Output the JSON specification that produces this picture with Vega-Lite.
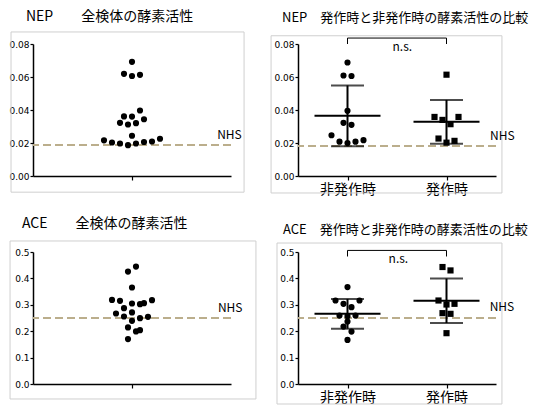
{
  "$schema": "https://vega.github.io/schema/vega-lite/v6.json",
  "padding": {"left": 8, "top": 10, "right": 0, "bottom": 0},
  "background": "white",
  "columns": 2,
  "bounds": "flush",
  "spacing": {"row": 76, "column": 67},
  "datasets": {
    "one": [{}],
    "nep_all": [
      {"g": "全検体", "v": 0.0692, "slot": 0}, {"g": "全検体", "v": 0.0619, "slot": -1}, {"g": "全検体", "v": 0.0606, "slot": 0}, {"g": "全検体", "v": 0.0613, "slot": 1},
      {"g": "全検体", "v": 0.0397, "slot": 1}, {"g": "全検体", "v": 0.0361, "slot": -1}, {"g": "全検体", "v": 0.036, "slot": 0}, {"g": "全検体", "v": 0.0344, "slot": 1.5},
      {"g": "全検体", "v": 0.0322, "slot": -1.5}, {"g": "全検体", "v": 0.0312, "slot": -0.5}, {"g": "全検体", "v": 0.032, "slot": 0.5}, {"g": "全検体", "v": 0.0244, "slot": 0},
      {"g": "全検体", "v": 0.0216, "slot": -3.5}, {"g": "全検体", "v": 0.0203, "slot": -2.5}, {"g": "全検体", "v": 0.0197, "slot": -1.5}, {"g": "全検体", "v": 0.0187, "slot": -0.5},
      {"g": "全検体", "v": 0.0197, "slot": 0.5}, {"g": "全検体", "v": 0.0206, "slot": 1.5}, {"g": "全検体", "v": 0.0209, "slot": 2.5}, {"g": "全検体", "v": 0.0226, "slot": 3.5}
    ],
    "nep_cmp": [
      {"g": "非発作時", "v": 0.0688, "slot": 0}, {"g": "非発作時", "v": 0.0609, "slot": -0.5}, {"g": "非発作時", "v": 0.0606, "slot": 0.5}, {"g": "非発作時", "v": 0.0395, "slot": 0},
      {"g": "非発作時", "v": 0.0322, "slot": -0.5}, {"g": "非発作時", "v": 0.031, "slot": 0.5}, {"g": "非発作時", "v": 0.0247, "slot": -2}, {"g": "非発作時", "v": 0.0208, "slot": -1},
      {"g": "非発作時", "v": 0.02, "slot": 0}, {"g": "非発作時", "v": 0.0208, "slot": 1}, {"g": "非発作時", "v": 0.0217, "slot": 2},
      {"g": "発作時", "v": 0.0614, "slot": 0}, {"g": "発作時", "v": 0.0358, "slot": -1.5}, {"g": "発作時", "v": 0.0358, "slot": 1.5}, {"g": "発作時", "v": 0.034, "slot": -0.5},
      {"g": "発作時", "v": 0.0314, "slot": 0.5}, {"g": "発作時", "v": 0.0227, "slot": -1}, {"g": "発作時", "v": 0.0213, "slot": 1}, {"g": "発作時", "v": 0.0202, "slot": 0}
    ],
    "ace_all": [
      {"g": "全検体", "v": 0.4448, "slot": 0.5}, {"g": "全検体", "v": 0.4259, "slot": -0.5}, {"g": "全検体", "v": 0.3654, "slot": 0}, {"g": "全検体", "v": 0.3186, "slot": -2.5},
      {"g": "全検体", "v": 0.3149, "slot": -1.5}, {"g": "全検体", "v": 0.3174, "slot": 2.5}, {"g": "全検体", "v": 0.305, "slot": 0}, {"g": "全検体", "v": 0.3023, "slot": 1},
      {"g": "全検体", "v": 0.3061, "slot": 1.5}, {"g": "全検体", "v": 0.2872, "slot": -1}, {"g": "全検体", "v": 0.2672, "slot": -2}, {"g": "全検体", "v": 0.271, "slot": 0},
      {"g": "全検体", "v": 0.2558, "slot": -1}, {"g": "全検体", "v": 0.2494, "slot": 1}, {"g": "全検体", "v": 0.2543, "slot": 2}, {"g": "全検体", "v": 0.2392, "slot": 0},
      {"g": "全検体", "v": 0.2142, "slot": -0.5}, {"g": "全検体", "v": 0.1991, "slot": 0.5}, {"g": "全検体", "v": 0.204, "slot": 1}, {"g": "全検体", "v": 0.17, "slot": -0.5}
    ],
    "ace_cmp": [
      {"g": "非発作時", "v": 0.3671, "slot": 0}, {"g": "非発作時", "v": 0.3163, "slot": -1.5}, {"g": "非発作時", "v": 0.3163, "slot": 1.5}, {"g": "非発作時", "v": 0.3037, "slot": -0.5},
      {"g": "非発作時", "v": 0.2911, "slot": 0.5}, {"g": "非発作時", "v": 0.2593, "slot": -1}, {"g": "非発作時", "v": 0.257, "slot": 0}, {"g": "非発作時", "v": 0.2593, "slot": 1},
      {"g": "非発作時", "v": 0.2365, "slot": 0}, {"g": "非発作時", "v": 0.2175, "slot": -0.5}, {"g": "非発作時", "v": 0.1986, "slot": 0.5}, {"g": "非発作時", "v": 0.1671, "slot": 0},
      {"g": "発作時", "v": 0.4431, "slot": -0.5}, {"g": "発作時", "v": 0.4302, "slot": 0.5}, {"g": "発作時", "v": 0.3163, "slot": -1}, {"g": "発作時", "v": 0.3011, "slot": 0},
      {"g": "発作時", "v": 0.3037, "slot": 1}, {"g": "発作時", "v": 0.2684, "slot": -0.5}, {"g": "発作時", "v": 0.2658, "slot": 0.5}, {"g": "発作時", "v": 0.1925, "slot": 0}
    ],
    "nep_bracket": [
      {"g": "非発作時", "y": 0.08, "o": 1}, {"g": "非発作時", "y": 0.0836, "o": 2}, {"g": "発作時", "y": 0.0836, "o": 3}, {"g": "発作時", "y": 0.08, "o": 4}
    ],
    "ace_bracket": [
      {"g": "非発作時", "y": 0.483, "o": 1}, {"g": "非発作時", "y": 0.506, "o": 2}, {"g": "発作時", "y": 0.506, "o": 3}, {"g": "発作時", "y": 0.483, "o": 4}
    ]
  },
  "concat": [
    {
      "width": 198, "height": 132,
      "title": {"text": "NEP　　全検体の酵素活性", "anchor": "start", "frame": "group", "dx": -7, "offset": -4, "baseline": "alphabetic", "fontSize": 14},
      "layer": [
        {"data": {"name": "one"},
         "layer": [
          {"mark": {"type": "rect", "filled": false, "stroke": "#cfcfcf", "strokeWidth": 1},
           "encoding": {"x": {"datum": -0.111, "type": "quantitative", "scale": {"domain": [0, 1]}, "axis": null}, "x2": {"datum": 1.066},
                        "y": {"datum": -0.0098, "type": "quantitative", "scale": {"domain": [0, 0.08]}, "axis": {"title": null, "values": [0, 0.02, 0.04, 0.06, 0.08], "format": ".2f"}}, "y2": {"datum": 0.0873}}},
          {"mark": {"type": "text", "text": "NHS", "align": "left", "baseline": "middle", "fontSize": 12},
           "encoding": {"x": {"datum": 0.93, "type": "quantitative", "axis": null}, "y": {"datum": 0.025, "type": "quantitative", "axis": {"title": null, "values": [0, 0.02, 0.04, 0.06, 0.08], "format": ".2f"}}}}
        ]},
        {"data": {"name": "nep_all"},
         "layer": [
          {"mark": {"type": "rule", "color": "#bcae8c", "strokeDash": [8, 4], "strokeWidth": 1},
           "encoding": {"y": {"datum": 0.0188, "type": "quantitative", "axis": {"title": null, "values": [0, 0.02, 0.04, 0.06, 0.08], "format": ".2f"}}}},
          {"mark": {"type": "point", "filled": true, "shape": "circle", "size": 38, "opacity": 1, "color": "black"},
           "encoding": {
             "x": {"field": "g", "type": "nominal", "scale": {"type": "point", "padding": 0.5}, "axis": {"title": null, "labels": false, "tickSize": 4}},
             "xOffset": {"field": "slot", "type": "quantitative", "scale": {"domain": [-4, 4], "range": [-32, 32]}},
             "y": {"field": "v", "type": "quantitative", "scale": {"domain": [0, 0.08]}, "axis": {"title": null, "values": [0, 0.02, 0.04, 0.06, 0.08], "format": ".2f"}}}}
         ]}
      ],
      "resolve": {"scale": {"x": "independent"}}
    },
    {
      "width": 198, "height": 132,
      "title": {"text": "NEP　発作時と非発作時の酵素活性の比較", "anchor": "start", "frame": "group", "dx": -16, "offset": 0, "baseline": "alphabetic", "fontSize": 13},
      "layer": [
        {"data": {"name": "one"},
         "layer": [
          {"mark": {"type": "rect", "filled": false, "stroke": "#cfcfcf", "strokeWidth": 1},
           "encoding": {"x": {"datum": -0.136, "type": "quantitative", "scale": {"domain": [0, 1]}, "axis": null}, "x2": {"datum": 1.03},
                        "y": {"datum": -0.0103, "type": "quantitative", "scale": {"domain": [0, 0.08]}, "axis": {"title": null, "values": [0, 0.02, 0.04, 0.06, 0.08], "format": ".2f"}}, "y2": {"datum": 0.085}}},
          {"mark": {"type": "text", "text": "NHS", "align": "left", "baseline": "middle", "fontSize": 12},
           "encoding": {"x": {"datum": 0.97, "type": "quantitative", "axis": null}, "y": {"datum": 0.0243, "type": "quantitative", "axis": {"title": null, "values": [0, 0.02, 0.04, 0.06, 0.08], "format": ".2f"}}}},
          {"mark": {"type": "text", "text": "n.s.", "align": "center", "baseline": "middle", "fontSize": 12},
           "encoding": {"x": {"datum": 0.527, "type": "quantitative", "axis": null}, "y": {"datum": 0.0779, "type": "quantitative", "axis": {"title": null, "values": [0, 0.02, 0.04, 0.06, 0.08], "format": ".2f"}}}}
        ]},
        {"data": {"name": "nep_cmp"},
         "layer": [
          {"mark": {"type": "rule", "color": "#bcae8c", "strokeDash": [8, 4], "strokeWidth": 1},
           "encoding": {"y": {"datum": 0.0182, "type": "quantitative", "axis": {"title": null, "values": [0, 0.02, 0.04, 0.06, 0.08], "format": ".2f"}}}},
          {"mark": {"type": "errorbar", "extent": "stdev", "ticks": true, "size": 33, "thickness": 2, "color": "black"},
           "encoding": {"x": {"field": "g", "type": "nominal", "scale": {"type": "point", "padding": 0.5, "domain": ["非発作時", "発作時"]}, "axis": {"title": null, "labelAngle": 0, "labelFontSize": 14, "labelPadding": 2, "tickSize": 4}},
                        "y": {"field": "v", "type": "quantitative", "axis": {"title": null, "values": [0, 0.02, 0.04, 0.06, 0.08], "format": ".2f"}}}},
          {"mark": {"type": "tick", "orient": "horizontal", "size": 66, "thickness": 2, "color": "black"},
           "encoding": {"x": {"field": "g", "type": "nominal", "scale": {"type": "point", "padding": 0.5, "domain": ["非発作時", "発作時"]}, "axis": {"title": null, "labelAngle": 0, "labelFontSize": 14, "labelPadding": 2, "tickSize": 4}},
                        "y": {"aggregate": "mean", "field": "v", "type": "quantitative", "axis": {"title": null, "values": [0, 0.02, 0.04, 0.06, 0.08], "format": ".2f"}}}},
          {"mark": {"type": "point", "filled": true, "size": 38, "opacity": 1, "color": "black"},
           "encoding": {
             "x": {"field": "g", "type": "nominal", "scale": {"type": "point", "padding": 0.5, "domain": ["非発作時", "発作時"]}, "axis": {"title": null, "labelAngle": 0, "labelFontSize": 14, "labelPadding": 2, "tickSize": 4}},
             "xOffset": {"field": "slot", "type": "quantitative", "scale": {"domain": [-4, 4], "range": [-32, 32]}},
             "shape": {"field": "g", "type": "nominal", "scale": {"domain": ["非発作時", "発作時"], "range": ["circle", "square"]}, "legend": null},
             "y": {"field": "v", "type": "quantitative", "scale": {"domain": [0, 0.08]}, "axis": {"title": null, "values": [0, 0.02, 0.04, 0.06, 0.08], "format": ".2f"}}}},
          {"data": {"name": "nep_bracket"},
           "mark": {"type": "line", "color": "black", "strokeWidth": 1},
           "encoding": {"x": {"field": "g", "type": "nominal", "scale": {"type": "point", "padding": 0.5, "domain": ["非発作時", "発作時"]}, "axis": {"title": null, "labelAngle": 0, "labelFontSize": 14, "labelPadding": 2, "tickSize": 4}},
                        "y": {"field": "y", "type": "quantitative", "axis": {"title": null, "values": [0, 0.02, 0.04, 0.06, 0.08], "format": ".2f"}},
                        "order": {"field": "o", "type": "quantitative"}}}
         ]}
      ],
      "resolve": {"scale": {"x": "independent"}}
    },
    {
      "width": 198, "height": 132,
      "title": {"text": "ACE　　全検体の酵素活性", "anchor": "start", "frame": "group", "dx": -11, "offset": -2, "baseline": "alphabetic", "fontSize": 14},
      "layer": [
        {"data": {"name": "one"},
         "layer": [
          {"mark": {"type": "rect", "filled": false, "stroke": "#cfcfcf", "strokeWidth": 1},
           "encoding": {"x": {"datum": -0.116, "type": "quantitative", "scale": {"domain": [0, 1]}, "axis": null}, "x2": {"datum": 1.126},
                        "y": {"datum": -0.0568, "type": "quantitative", "scale": {"domain": [0, 0.5]}, "axis": {"title": null, "values": [0, 0.1, 0.2, 0.3, 0.4, 0.5], "format": ".1f"}}, "y2": {"datum": 0.5417}}},
          {"mark": {"type": "text", "text": "NHS", "align": "left", "baseline": "middle", "fontSize": 12},
           "encoding": {"x": {"datum": 0.934, "type": "quantitative", "axis": null}, "y": {"datum": 0.286, "type": "quantitative", "axis": {"title": null, "values": [0, 0.1, 0.2, 0.3, 0.4, 0.5], "format": ".1f"}}}}
        ]},
        {"data": {"name": "ace_all"},
         "layer": [
          {"mark": {"type": "rule", "color": "#bcae8c", "strokeDash": [8, 4], "strokeWidth": 1},
           "encoding": {"y": {"datum": 0.251, "type": "quantitative", "axis": {"title": null, "values": [0, 0.1, 0.2, 0.3, 0.4, 0.5], "format": ".1f"}}}},
          {"mark": {"type": "point", "filled": true, "shape": "circle", "size": 38, "opacity": 1, "color": "black"},
           "encoding": {
             "x": {"field": "g", "type": "nominal", "scale": {"type": "point", "padding": 0.5}, "axis": {"title": null, "labels": false, "tickSize": 4}},
             "xOffset": {"field": "slot", "type": "quantitative", "scale": {"domain": [-4, 4], "range": [-32, 32]}},
             "y": {"field": "v", "type": "quantitative", "scale": {"domain": [0, 0.5]}, "axis": {"title": null, "values": [0, 0.1, 0.2, 0.3, 0.4, 0.5], "format": ".1f"}}}}
         ]}
      ],
      "resolve": {"scale": {"x": "independent"}}
    },
    {
      "width": 198, "height": 132,
      "title": {"text": "ACE　発作時と非発作時の酵素活性の比較", "anchor": "start", "frame": "group", "dx": -15, "offset": -4, "baseline": "alphabetic", "fontSize": 13},
      "layer": [
        {"data": {"name": "one"},
         "layer": [
          {"mark": {"type": "rect", "filled": false, "stroke": "#cfcfcf", "strokeWidth": 1},
           "encoding": {"x": {"datum": -0.106, "type": "quantitative", "scale": {"domain": [0, 1]}, "axis": null}, "x2": {"datum": 1.03},
                        "y": {"datum": -0.0758, "type": "quantitative", "scale": {"domain": [0, 0.5]}, "axis": {"title": null, "values": [0, 0.1, 0.2, 0.3, 0.4, 0.5], "format": ".1f"}}, "y2": {"datum": 0.534}}},
          {"mark": {"type": "text", "text": "NHS", "align": "left", "baseline": "middle", "fontSize": 12},
           "encoding": {"x": {"datum": 0.968, "type": "quantitative", "axis": null}, "y": {"datum": 0.293, "type": "quantitative", "axis": {"title": null, "values": [0, 0.1, 0.2, 0.3, 0.4, 0.5], "format": ".1f"}}}},
          {"mark": {"type": "text", "text": "n.s.", "align": "center", "baseline": "middle", "fontSize": 12},
           "encoding": {"x": {"datum": 0.507, "type": "quantitative", "axis": null}, "y": {"datum": 0.4746, "type": "quantitative", "axis": {"title": null, "values": [0, 0.1, 0.2, 0.3, 0.4, 0.5], "format": ".1f"}}}}
        ]},
        {"data": {"name": "ace_cmp"},
         "layer": [
          {"mark": {"type": "rule", "color": "#bcae8c", "strokeDash": [8, 4], "strokeWidth": 1},
           "encoding": {"y": {"datum": 0.251, "type": "quantitative", "axis": {"title": null, "values": [0, 0.1, 0.2, 0.3, 0.4, 0.5], "format": ".1f"}}}},
          {"mark": {"type": "errorbar", "extent": "stdev", "ticks": true, "size": 33, "thickness": 2, "color": "black"},
           "encoding": {"x": {"field": "g", "type": "nominal", "scale": {"type": "point", "padding": 0.5, "domain": ["非発作時", "発作時"]}, "axis": {"title": null, "labelAngle": 0, "labelFontSize": 14, "labelPadding": 2, "tickSize": 4}},
                        "y": {"field": "v", "type": "quantitative", "axis": {"title": null, "values": [0, 0.1, 0.2, 0.3, 0.4, 0.5], "format": ".1f"}}}},
          {"mark": {"type": "tick", "orient": "horizontal", "size": 66, "thickness": 2, "color": "black"},
           "encoding": {"x": {"field": "g", "type": "nominal", "scale": {"type": "point", "padding": 0.5, "domain": ["非発作時", "発作時"]}, "axis": {"title": null, "labelAngle": 0, "labelFontSize": 14, "labelPadding": 2, "tickSize": 4}},
                        "y": {"aggregate": "mean", "field": "v", "type": "quantitative", "axis": {"title": null, "values": [0, 0.1, 0.2, 0.3, 0.4, 0.5], "format": ".1f"}}}},
          {"mark": {"type": "point", "filled": true, "size": 38, "opacity": 1, "color": "black"},
           "encoding": {
             "x": {"field": "g", "type": "nominal", "scale": {"type": "point", "padding": 0.5, "domain": ["非発作時", "発作時"]}, "axis": {"title": null, "labelAngle": 0, "labelFontSize": 14, "labelPadding": 2, "tickSize": 4}},
             "xOffset": {"field": "slot", "type": "quantitative", "scale": {"domain": [-4, 4], "range": [-32, 32]}},
             "shape": {"field": "g", "type": "nominal", "scale": {"domain": ["非発作時", "発作時"], "range": ["circle", "square"]}, "legend": null},
             "y": {"field": "v", "type": "quantitative", "scale": {"domain": [0, 0.5]}, "axis": {"title": null, "values": [0, 0.1, 0.2, 0.3, 0.4, 0.5], "format": ".1f"}}}},
          {"data": {"name": "ace_bracket"},
           "mark": {"type": "line", "color": "black", "strokeWidth": 1},
           "encoding": {"x": {"field": "g", "type": "nominal", "scale": {"type": "point", "padding": 0.5, "domain": ["非発作時", "発作時"]}, "axis": {"title": null, "labelAngle": 0, "labelFontSize": 14, "labelPadding": 2, "tickSize": 4}},
                        "y": {"field": "y", "type": "quantitative", "axis": {"title": null, "values": [0, 0.1, 0.2, 0.3, 0.4, 0.5], "format": ".1f"}},
                        "order": {"field": "o", "type": "quantitative"}}}
         ]}
      ],
      "resolve": {"scale": {"x": "independent"}}
    }
  ],
  "config": {
    "font": "Noto Sans CJK JP",
    "view": {"stroke": null},
    "title": {"fontWeight": "normal", "color": "black", "font": "Noto Sans CJK JP"},
    "text": {"color": "black", "font": "Noto Sans CJK JP"},
    "axis": {
      "grid": false,
      "domainColor": "black", "domainWidth": 1.5,
      "tickColor": "black", "tickWidth": 1.2, "tickSize": 3,
      "labelColor": "black", "labelFont": "DejaVu Sans", "labelFontSize": 9, "labelPadding": 1
    },
    "axisX": {"labelFont": "Noto Sans CJK JP"}
  }
}
